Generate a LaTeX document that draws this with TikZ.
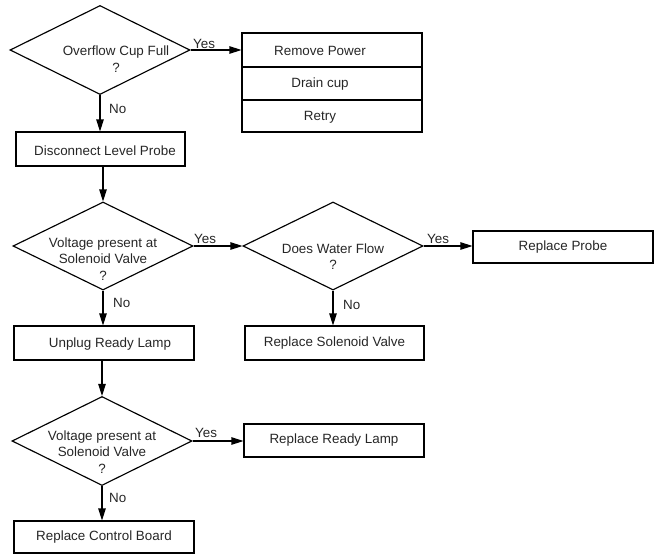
\documentclass[tikz,border=0pt]{standalone}
\usepackage{fontspec}
\setmainfont{Liberation Sans}
\usetikzlibrary{shapes.geometric,arrows.meta}
\begin{document}
\begin{tikzpicture}[x=1pt,y=-1pt,
  every node/.style={font=\fontsize{13.4}{16.5}\selectfont, text=black!85},
  dia/.style={draw, diamond, line width=1.15pt, inner sep=0pt, minimum width=180pt, minimum height=89pt},
  box/.style={draw, rectangle, line width=1.15pt, inner sep=0pt, minimum width=180pt, minimum height=33pt},
  txt/.style={align=center, inner sep=0pt},
  lab/.style={anchor=base west, inner sep=0pt},
  arr/.style={line width=1.15pt, -{Triangle[length=12pt,width=7.5pt]}}]
\useasboundingbox (0,0) rectangle (656,554);
% nodes
\node[dia] (d1) at (100,50) {};
\node[txt] (t1) at (116,59) {Overflow Cup Full\\?};
\node[box, minimum height=34pt] (r1) at (332,50) {};
\node[box, minimum height=33pt] (r2) at (332,83.5) {};
\node[box, minimum height=32pt] (r3) at (332,116) {};
\node[txt] (tr1) at (320,51) {Remove Power};
\node[txt] (tr2) at (320,84) {Drain cup};
\node[txt] (tr3) at (320,117) {Retry};
\node[box, minimum width=169pt, minimum height=34pt] (b1) at (100.5,149) {};
\node[txt] (tb1) at (105,150.5) {Disconnect Level Probe};
\node[dia, minimum height=88pt] (d2) at (103,246) {};
\node[txt] (t2) at (103,259) {Voltage present at\\Solenoid Valve\\?};
\node[dia, minimum height=88pt] (d3) at (333,246) {};
\node[txt] (t3) at (333,256.5) {Does Water Flow\\?};
\node[box, minimum height=32pt] (b2) at (563,247) {Replace Probe};
\node[box, minimum height=34pt] (b3) at (104,343) {};
\node[txt] (tb3) at (110,344) {Unplug Ready Lamp};
\node[box, minimum width=179pt, minimum height=34pt] (b4) at (334.5,343) {Replace Solenoid Valve};
\node[dia] (d4) at (102,441) {};
\node[txt] (t4) at (102,452) {Voltage present at\\Solenoid Valve\\?};
\node[box] (b5) at (334,440.5) {Replace Ready Lamp};
\node[box, minimum height=32pt] (b6) at (104,537) {Replace Control Board};
% connectors
\draw[arr] (d1.east) -- (r1.west |- d1.east);
\draw[arr] (d1.south) -- (d1.south |- b1.north);
\draw[arr] (b1.south -| d2.north) -- (d2.north);
\draw[arr] (d2.east) -- (d3.west);
\draw[arr] (d3.east) -- (b2.west |- d3.east);
\draw[arr] (d2.south) -- (d2.south |- b3.north);
\draw[arr] (d3.south) -- (d3.south |- b4.north);
\draw[arr] (b3.south -| d4.north) -- (d4.north);
\draw[arr] (d4.east) -- (b5.west |- d4.east);
\draw[arr] (d4.south) -- (d4.south |- b6.north);
% labels
\node[lab] (y1) at (193,48) {Yes};
\node[lab] (n1) at (109,113) {No};
\node[lab] (y2) at (194,243) {Yes};
\node[lab] (n2) at (113,307) {No};
\node[lab] (y3) at (427,243) {Yes};
\node[lab] (n3) at (343,309) {No};
\node[lab] (y4) at (195,437) {Yes};
\node[lab] (n4) at (109,502) {No};
\end{tikzpicture}
\end{document}
